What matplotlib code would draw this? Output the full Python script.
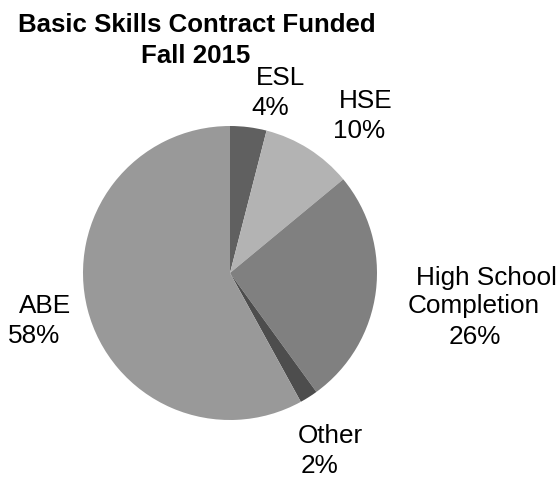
import matplotlib
matplotlib.use("Agg")
import matplotlib.pyplot as plt

categories = ["ESL", "HSE", "High School\nCompletion", "Other", "ABE"]
values = [4, 10, 26, 2, 58]
colors = ["#606060", "#b3b3b3", "#808080", "#4d4d4d", "#999999"]
title_lines = ["Basic Skills Contract Funded", "Fall 2015"]

W, H = 560, 480
fig = plt.figure(figsize=(W / 100, H / 100), dpi=100)
plt.rcParams['font.family'] = ['Liberation Sans', 'DejaVu Sans']

cx, cy, r = 230, 273, 147
ax = fig.add_axes([(cx - r) / W, (H - cy - r) / H, 2 * r / W, 2 * r / H])
ax.pie(values, colors=colors, startangle=90, counterclock=False,
       wedgeprops=dict(linewidth=0), radius=1)
ax.set_xlim(-1, 1)
ax.set_ylim(-1, 1)
ax.set_aspect('auto')
ax.axis('off')

def px(x, y, s, size=18.8, **kw):
    fig.text(x / W, 1 - y / H, s, ha='center', va='baseline', fontsize=size, **kw)

# title
px(197, 32, title_lines[0], size=18.6, fontweight='bold')
px(196, 63, title_lines[1], size=18.6, fontweight='bold')

# label line centres / baselines (layout)
label_pos = [
    [(281, 85), (270, 115)],
    [(366, 108), (359, 138)],
    [(486, 285), (474, 313), (475, 344)],
    [(330, 443), (319, 473)],
    [(45, 313), (34, 343)],
]
for cat, v, pos in zip(categories, values, label_pos):
    lines = cat.split("\n") + [f"{v}%"]
    for s, (x, y) in zip(lines, pos):
        px(x, y, s)

fig.savefig("out.png", dpi=100)
